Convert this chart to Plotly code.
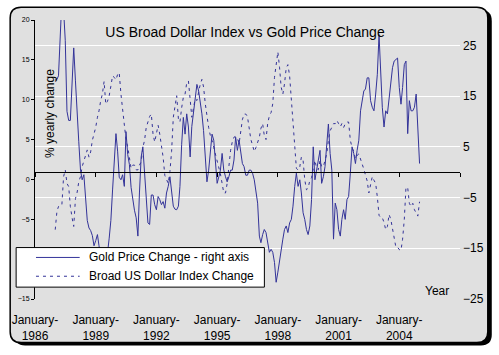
import pandas as pd
import plotly.graph_objects as go

# ---------------- data (yearly % change, monthly from Jan 1987) ----------------
gold_change = [
    18.3, 18.3, 19, 31, 34, 32, 26, 12, 10.2, 10.2, 17, 24.5,            # 1987
    18, 10, 6, 0.4, -1.5, -0.5, -4.5, -9.5, -11, -11.5, -12.5, -14.5,    # 1988
    -13.5, -12.3, -14.5, -17, -18, -17, -18, -16, -13, -9.5, -3.5, 1,    # 1989
    7.6, 4, -1, -1.5, -0.5, -2.8, 8, 3.5, 1.5, -3, -5.5, -7.5,           # 1990
    -9, -12.6, -4.1, 3.0, 5.0, 0.4, -4.1, -10.0, -10.3, -4.5, -4.5, -6.4,  # 1991
    -7.4, -4.8, -5.4, -6.4, -5.8, -7.1, -4.1, -2.8, -0.9, -3.5, -6.7, -7.3,  # 1992
    -7.4, -6.7, -2.8, 5.5, 10.8, 7.5, 11.5, 8.9, 3.0, 9.0, 12.1, 15.5,   # 1993
    17.3, 16.0, 14.1, 11.5, 8.2, 2.4, -1.9, 0.4, 3.7, 7.5, 6.3, 1.1,     # 1994
    -2.2, -0.9, 0.4, 3.7, 0.4, -0.9, -1.9, -0.9, 0.4, 0.4, 2.4, 6.9,     # 1995
    4.3, 6.3, 3.7, 1.7, 1.1, -0.6, -0.6, 0.4, 0.4, -0.2, -1.5, -4.1,     # 1996
    -6.1, -12.6, -13.9, -12.3, -11.3, -11.9, -13.9, -15.8, -15.2, -15.8, -17.8, -21.7,  # 1997
    -19.7, -17.1, -15.8, -13.2, -11.3, -10.6, -11.9, -10.0, -9.3, -6.7, -2.8, -0.2,     # 1998
    -2.8, -1.5, -4.1, -8.0, -9.3, -11.3, -12.3, -10.6, -5.4, 5.0, -1.5, 0.4,  # 1999
    3.0, 4.3, -2.2, -0.9, 1.1, 6.3, 9.5, 3.7, 0.4, -13.2, -6.1, -7.4,    # 2000
    -11.3, -12.6, -9.3, -7.4, -9.3, -5.4, -4.8, -0.2, 5.0, 3.7, 1.7, 4.3,  # 2001
    6.3, 12.1, 14.1, 16.0, 16.4, 18.6, 18.6, 14.1, 12.8, 12.1, 15.4, 19.3,  # 2002
    27.1, 18.0, 12.8, 8.9, 12.1, 11.5, 14.7, 18.0, 20.6, 21.9, 22.2, 22.5,  # 2003
    16.7, 13.4, 16.7, 21.2, 21.9, 7.6, 14.1, 12.1, 12.1, 12.8, 15.4, 8,  # 2004
    1.7,                                                                 # 2005
]

dollar_change = [
    -6.3, -4.0, -3.4, -3.4, -3.2, 0.35, 1.2, -0.5, -0.9, -3.4, -4.8, -5.9,  # 1987
    -2.4, -1.6, -0.3, 0.35, 1.6, 2.4, 3.2, 3.7, 2.8, 3.45, 4.9, 5.7,        # 1988
    6.55, 7.8, 8.6, 9.9, 10.7, 12.3, 9.45, 9.8, 10.5, 11.7, 13.0, 12.8,     # 1989
    12.5, 13.2, 13.4, 10.7, 9.0, 6.5, 5.0, 4.1, 2.8, 1.4, 1.8, 1.8,         # 1990
    1.2, 1.2, 1.8, 2.2, 4.0, 4.9, 6.5, 7.4, 7.9, 8.2, 5.7, 4.7,             # 1991
    5.8, 6.8, 5.7, 4.3, 2.8, 0.5, -0.1, -0.5, 1.0, 3.5, 7.8, 9.5,           # 1992
    10.5, 7.6, 7.2, 9.0, 10.3, 10.7, 12.1, 12.35, 10.0, 7.8, 9.0, 10.1,     # 1993
    9.9, 11.1, 11.9, 12.55, 11.6, 9.5, 7.8, 6.5, 5.5, 4.9, 4.0, 3.2,        # 1994
    2.4, 1.6, 0.7, -0.5, -1.7, -1.7, -0.5, 1.6, 3.66, 4.7, 5.3, 5.4,        # 1995
    5.2, 4.5, 6.0, 7.5, 8.2, 8.2, 7.9, 6.3, 5.0, 4.3, 3.5, 4.0,             # 1996
    4.7, 5.3, 6.4, 7.0, 5.5, 5.0, 7.0, 8.0, 8.4, 9.5, 12.8, 14.4,           # 1997
    16.0, 14.0, 11.6, 10.7, 12.0, 14.0, 14.4, 13.0, 10.3, 7.5, 4.1, 1.4,    # 1998
    1.17, 1.6, 2.8, 2.4, 0.0, -1.3, -1.1, -0.1, 0.2, 1.6, 2.4, 1.4,         # 1999
    1.2, 2.4, 1.6, 1.6, 2.4, 3.2, 4.9, 6.1, 6.55, 7.0, 7.0, 7.4,            # 2000
    7.0, 6.6, 7.0, 6.5, 7.0, 7.2, 7.2, 4.9, 4.0, 3.5, 2.6, 3.0,             # 2001
    3.2, 2.6, 2.0, 1.3, 0.55, -0.2, -1.7, -0.5, 0.35, -0.1, -0.5, -2.2,     # 2002
    -4.5, -4.8, -4.8, -5.4, -6.3, -5.9, -4.4, -5.0, -6.3, -7.5, -8.5, -8.5,  # 2003
    -8.8, -8.9, -7.5, -5.0, -1.0, -1.0, -3.0, -3.4, -3.0, -3.8, -4.2, -4.6,  # 2004
    -2.8,                                                                   # 2005
]

months = pd.date_range("1987-01-01", periods=len(gold_change), freq="MS")

tick_years = [1986, 1989, 1992, 1995, 1998, 2001, 2004]
tick_labels = [f"January-<br>{y}" for y in tick_years]
axis_tick_years = tick_years + [2007]

left_ticks = [-15, -10, -5, 0, 5, 10, 15, 20]
right_ticks = [-25, -15, -5, 5, 15, 25]

series_names = ["Gold Price Change - right axis", "Broad US Dollar Index Change"]
title_text = "US Broad Dollar Index vs Gold Price Change"

# ---------------- styling ----------------
FONT = "Liberation Sans, Arial, sans-serif"
NAVY = "#333399"
BG = "#e0e0e0"
W, H = 499, 355
L, R, T, B = 32, 39, 20, 53
PW, PH = W - L - R, H - T - B


def X(px):
    return (px - L) / PW


def Y(py):
    return (H - B - py) / PH


def rrect(x0, y0, x1, y1, r):
    return (
        f"M{X(x0 + r)},{Y(y0)} L{X(x1 - r)},{Y(y0)} Q{X(x1)},{Y(y0)} {X(x1)},{Y(y0 + r)} "
        f"L{X(x1)},{Y(y1 - r)} Q{X(x1)},{Y(y1)} {X(x1 - r)},{Y(y1)} "
        f"L{X(x0 + r)},{Y(y1)} Q{X(x0)},{Y(y1)} {X(x0)},{Y(y1 - r)} "
        f"L{X(x0)},{Y(y0 + r)} Q{X(x0)},{Y(y0)} {X(x0 + r)},{Y(y0)} Z"
    )


DASH = "3px,4px"

fig = go.Figure()
fig.add_trace(go.Scatter(
    x=months, y=gold_change, name=series_names[0], mode="lines",
    line=dict(color=NAVY, width=1), xaxis="x", yaxis="y2", showlegend=False,
))
fig.add_trace(go.Scatter(
    x=months, y=dollar_change, name=series_names[1], mode="lines",
    line=dict(color=NAVY, width=1, dash=DASH), xaxis="x2", yaxis="y", showlegend=False,
))

xrange = ["1986-01-01", "2007-01-01"]
zero_pos = (0 - (-25)) / (30 - (-25))  # right-axis zero, in paper fraction

fig.update_layout(
    width=W, height=H,
    margin=dict(l=L, r=R, t=T, b=B, pad=0),
    paper_bgcolor="white",
    plot_bgcolor="rgba(0,0,0,0)",
    font=dict(family=FONT, color="black", size=12),
    title=dict(text=title_text, x=245 / W, xanchor="center", y=1 - 32 / H, yanchor="middle",
               font=dict(family=FONT, size=14, color="black")),
    xaxis=dict(
        type="date", range=xrange, tickvals=[f"{y}-01-01" for y in tick_years],
        ticktext=tick_labels, showgrid=False, showline=False, zeroline=False, ticks="",
        tickfont=dict(size=12), ticklabelstandoff=12,
    ),
    xaxis2=dict(
        type="date", range=xrange, overlaying="x", anchor="free", position=zero_pos,
        tickvals=[f"{y}-01-01" for y in axis_tick_years], showticklabels=False,
        ticks="outside", ticklen=4, tickcolor="black", tickwidth=1,
        showline=True, linecolor="black", linewidth=1, showgrid=False, zeroline=False,
    ),
    yaxis=dict(
        range=[-15, 20], tickvals=left_ticks, showgrid=False, zeroline=False,
        showline=True, linecolor="black", linewidth=1, ticks="outside", ticklen=3,
        tickcolor="black", tickfont=dict(size=7),
    ),
    yaxis2=dict(
        range=[-25, 30], tickvals=right_ticks, overlaying="y", side="right",
        showgrid=True, gridcolor="white", gridwidth=1, zeroline=False, showline=False,
        ticks="", tickfont=dict(size=12), ticklabelstandoff=2,
    ),
)

shapes = [
    # drop shadow + chart frame
    dict(type="path", xref="paper", yref="paper", path=rrect(11, 10, 492, 349, 11),
         fillcolor="black", line=dict(width=0), layer="below"),
    dict(type="path", xref="paper", yref="paper", path=rrect(7, 7, 488, 346, 11),
         fillcolor=BG, line=dict(color="black", width=1.5), layer="below"),
    # legend box
    dict(type="rect", xref="paper", yref="paper", x0=X(13), x1=X(263), y0=Y(290), y1=Y(250),
         fillcolor="white", line=dict(color="black", width=1), layer="above"),
    dict(type="line", xref="paper", yref="paper", x0=X(33), x1=X(77), y0=Y(260), y1=Y(260),
         line=dict(color=NAVY, width=1), layer="above"),
    dict(type="line", xref="paper", yref="paper", x0=X(33), x1=X(77), y0=Y(279), y1=Y(279),
         line=dict(color=NAVY, width=1, dash=DASH), layer="above"),
]

annotations = [
    dict(text=series_names[0], xref="paper", yref="paper", x=X(84), y=Y(260),
         xanchor="left", yanchor="middle", showarrow=False, font=dict(size=12)),
    dict(text=series_names[1], xref="paper", yref="paper", x=X(84), y=Y(279),
         xanchor="left", yanchor="middle", showarrow=False, font=dict(size=12)),
    dict(text="% yearly change", xref="paper", yref="paper", x=X(47), y=Y(114),
         xanchor="center", yanchor="middle", textangle=-90, showarrow=False, font=dict(size=12)),
    dict(text="Year", xref="paper", yref="paper", x=X(437), y=Y(294),
         xanchor="center", yanchor="middle", showarrow=False, font=dict(size=12)),
]

fig.update_layout(shapes=shapes, annotations=annotations)

fig.write_html("out.html", config={"displayModeBar": False},
               post_script="document.body.style.margin='0';")
